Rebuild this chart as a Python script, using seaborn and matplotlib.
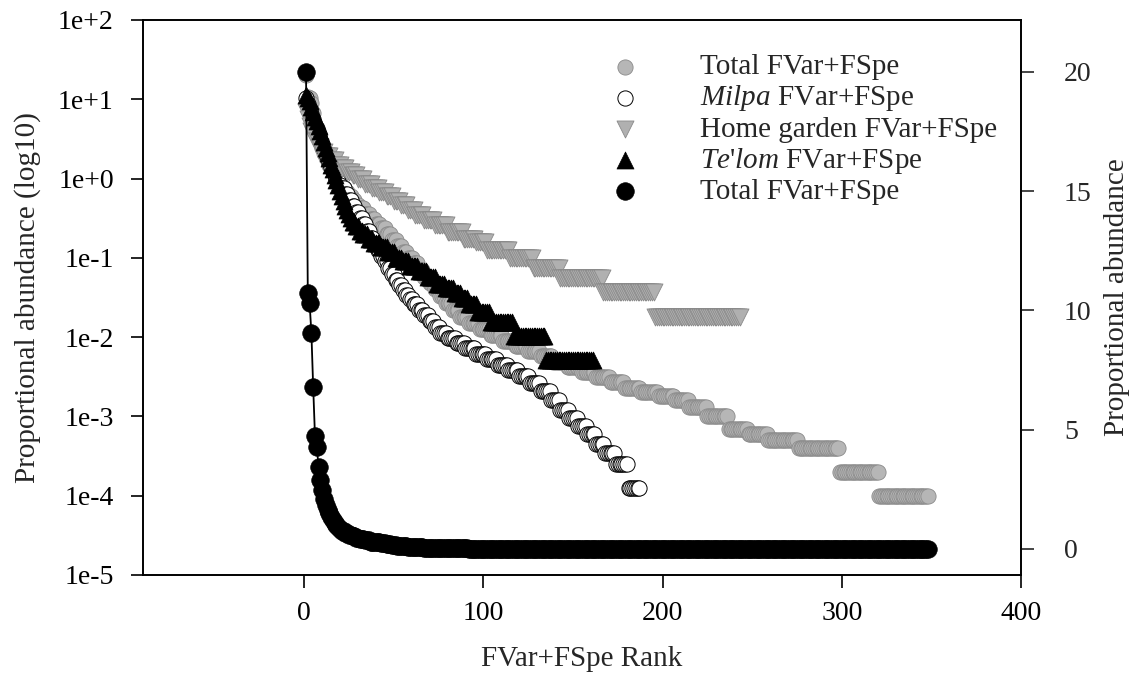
import numpy as np
import pandas as pd
import matplotlib
matplotlib.use("Agg")
import matplotlib.pyplot as plt
from matplotlib.ticker import FixedLocator, FuncFormatter, NullLocator
import seaborn as sns

# ---------------- data (rank-abundance, runs of tied values) ----------------
total_vals = [20, 10.73, 10.3, 9.06, 6.79, 4.74, 4.28, 3.44, 2.89, 2.45, 2.1, 1.85,
              1.65, 1.5, 1.35, 1.2, 1.1, 1.0, 0.92, 0.85, 0.77, 0.68, 0.6, 0.53, 0.47,
              0.42, 0.36, 0.31, 0.27, 0.24, 0.2, 0.17, 0.14, 0.12, 0.1, 0.085, 0.07,
              0.058, 0.048, 0.04, 0.033, 0.027, 0.022, 0.018, 0.015, 0.0125, 0.0105,
              0.009, 0.0077, 0.0066, 0.0057, 0.0049, 0.0042, 0.0036, 0.0031, 0.0027,
              0.0023, 0.002, 0.0018, 0.0016, 0.0013, 0.001, 0.0007, 0.0006, 0.0005,
              0.0004, 0.0002, 0.0001]
total_counts = [1, 1, 1, 1, 1, 1, 1, 1, 1, 1, 1, 1,
                1, 1, 1, 1, 1, 1, 1, 1, 2, 2, 2, 2, 2,
                3, 3, 3, 3, 3, 3, 3, 3, 3, 3, 3, 3,
                3, 3, 3, 3, 4, 4, 5, 6, 6, 7,
                7, 7, 7, 7, 8, 8, 8, 8, 8,
                9, 10, 9, 8, 10, 12, 11, 11, 17,
                23, 22, 28]

milpa_vals = [10.4, 8.8, 7.6, 6.5, 5.6, 4.8, 4.2, 3.6, 3.1, 2.7, 2.35, 2.05, 1.8,
              1.6, 1.4, 1.25, 1.12, 1.0, 0.92, 0.84, 0.75, 0.64, 0.54, 0.45, 0.38,
              0.32, 0.27, 0.22, 0.18, 0.15, 0.125, 0.105, 0.09, 0.075, 0.063, 0.053,
              0.045, 0.039, 0.034, 0.03, 0.026, 0.022, 0.019, 0.016, 0.0135, 0.0112,
              0.0096, 0.0083, 0.0072, 0.0062, 0.0053, 0.0045, 0.0038, 0.0032, 0.0026,
              0.0021, 0.0016, 0.0012, 0.00095, 0.00075, 0.0006, 0.00045, 0.00035,
              0.00025, 0.000125]
milpa_counts = [1, 1, 1, 1, 1, 1, 1, 1, 1, 1, 1, 1, 1,
                1, 1, 1, 1, 1, 1, 1, 2, 2, 2, 2, 2,
                2, 2, 2, 2, 2, 2, 2, 2, 2, 2, 2,
                2, 2, 2, 2, 3, 3, 3, 3, 3, 4,
                5, 5, 6, 6, 6, 6, 6, 6, 6,
                6, 5, 5, 5, 5, 5, 5, 6,
                7, 7]

home_vals = [6.9, 5.6, 4.6, 4.0, 3.5, 3.0, 2.5, 2.15, 1.9, 1.7, 1.5, 1.35, 1.2, 1.1,
             0.98, 0.86, 0.76, 0.68, 0.6, 0.52, 0.46, 0.4, 0.35, 0.3, 0.26, 0.21,
             0.175, 0.158, 0.127, 0.1, 0.075, 0.055, 0.037, 0.018]
home_counts = [1, 1, 1, 1, 1, 2, 2, 2, 3, 3, 3, 3, 3, 3,
               4, 4, 4, 4, 4, 4, 4, 4, 5, 6, 7, 9,
               7, 6, 13, 13, 15, 24, 29, 48]

telom_vals = [11.3, 10.5, 9.5, 8.0, 6.9, 6.0, 5.3, 4.6, 4.0, 3.4, 2.9, 2.45, 2.1,
              1.8, 1.5, 1.3, 1.1, 0.95, 0.82, 0.7, 0.6, 0.52, 0.45, 0.4, 0.36, 0.32,
              0.28, 0.25, 0.22, 0.2, 0.175, 0.155, 0.137, 0.12, 0.1, 0.09, 0.078,
              0.068, 0.057, 0.047, 0.042, 0.036, 0.031, 0.026, 0.0208, 0.0156,
              0.0104, 0.0052]
telom_counts = [1, 1, 1, 1, 1, 1, 1, 1, 1, 1, 1, 1, 1,
                1, 1, 1, 1, 1, 1, 1, 1, 1, 1, 1, 1, 1,
                2, 2, 2, 3, 3, 4, 4, 4, 4, 4, 5,
                5, 5, 5, 5, 4, 4, 5, 7, 13,
                18, 27]

legend_labels = ["Total FVar+FSpe", "$\\mathit{Milpa}$ FVar+FSpe",
                 "Home garden FVar+FSpe", "$\\mathit{Te}$'$\\mathit{lom}$ FVar+FSpe",
                 "Total FVar+FSpe"]
x_label = "FVar+FSpe Rank"
y_label_left = "Proportional abundance (log10)"
y_label_right = "Proportional abundance"
log_ticks = [1e-5, 1e-4, 1e-3, 1e-2, 1e-1, 1e0, 1e1, 1e2]
lin_ticks = [0, 5, 10, 15, 20]
x_ticks = [0, 100, 200, 300, 400]


def series(vals, counts):
    v = np.repeat(np.asarray(vals, float), counts)
    return pd.DataFrame({"rank": np.arange(1, len(v) + 1), "value": v})


df_total = series(total_vals, total_counts)
df_milpa = series(milpa_vals, milpa_counts)
df_home = series(home_vals, home_counts)
df_telom = series(telom_vals, telom_counts)

# ---------------- style ----------------
sns.set_style("ticks")
plt.rcParams["font.family"] = ["Liberation Serif", "DejaVu Serif"]
plt.rcParams["mathtext.fontset"] = "custom"
plt.rcParams["mathtext.rm"] = "Liberation Serif"
plt.rcParams["mathtext.it"] = "Liberation Serif:italic"
plt.rcParams["axes.linewidth"] = 1.2

fig = plt.figure(figsize=(11.31, 6.74), dpi=100)
ax = fig.add_axes([0.1264, 0.147, 0.7763, 0.8234])
ax.set_yscale("log")

sns.scatterplot(data=df_total, x="rank", y="value", ax=ax, marker="o", s=120,
                color="#b6b6b6", edgecolor="#8a8a8a", linewidth=0.6,
                label=legend_labels[0], zorder=2)
sns.scatterplot(data=df_milpa, x="rank", y="value", ax=ax, marker="o", s=120,
                color="white", edgecolor="black", linewidth=0.7,
                label=legend_labels[1], zorder=3)
sns.scatterplot(data=df_home, x="rank", y="value", ax=ax, marker="v", s=150,
                color="#b0b0b0", edgecolor="#8a8a8a", linewidth=0.6,
                label=legend_labels[2], zorder=4)
sns.scatterplot(data=df_telom, x="rank", y="value", ax=ax, marker="^", s=150,
                color="black", edgecolor="black", linewidth=0.5,
                label=legend_labels[3], zorder=5)

ax.set_xlim(-90, 400)
ax.set_ylim(1e-5, 1e2)
ax.yaxis.set_major_locator(FixedLocator(log_ticks))
ax.yaxis.set_minor_locator(NullLocator())
ax.yaxis.set_major_formatter(FuncFormatter(lambda v, p: "1e%+d" % int(round(np.log10(v)))))
ax.xaxis.set_major_locator(FixedLocator(x_ticks))
ax.tick_params(axis="both", direction="out", length=9, width=1.2, labelsize=20, colors="black")
ax.tick_params(axis="y", pad=12)
ax.tick_params(axis="x", pad=10)
ax.set_xlabel(x_label, fontsize=21, labelpad=14)
ax.set_ylabel(y_label_left, fontsize=21, labelpad=12)

ax2 = ax.twinx()
sns.lineplot(data=df_total, x="rank", y="value", ax=ax2, color="black", linewidth=1.3,
             estimator=None, sort=False, zorder=5)
sns.scatterplot(data=df_total, x="rank", y="value", ax=ax2, marker="o", s=160,
                color="black", edgecolor="black", linewidth=0.5,
                label=legend_labels[4], zorder=6)
ax2.set_ylim(-1.09, 22.18)
ax2.yaxis.set_major_locator(FixedLocator(lin_ticks))
ax2.tick_params(axis="y", direction="out", length=9, width=1.2, labelsize=20, pad=22)
ax2.set_ylabel(y_label_right, fontsize=21, labelpad=9)
ax2.set_xlim(-90, 400)
ax2.set_xlabel(x_label, fontsize=21, labelpad=14)

for a in (ax, ax2):
    for sp in a.spines.values():
        sp.set_visible(True)
        sp.set_linewidth(1.2)
        sp.set_color("black")
    if a.get_legend() is not None:
        a.get_legend().remove()

h1, l1 = ax.get_legend_handles_labels()
h2, l2 = ax2.get_legend_handles_labels()
handles = h1 + h2
leg = ax2.legend(handles, legend_labels, loc="upper left",
                 bbox_to_anchor=(610 / 1131, 1 - 54 / 674), bbox_transform=fig.transFigure,
                 frameon=False, fontsize=21, handlelength=1.0, handletextpad=2.1,
                 borderpad=0, borderaxespad=0, labelspacing=0.1, markerscale=1.0)

fig.savefig("out.png", dpi=100)
